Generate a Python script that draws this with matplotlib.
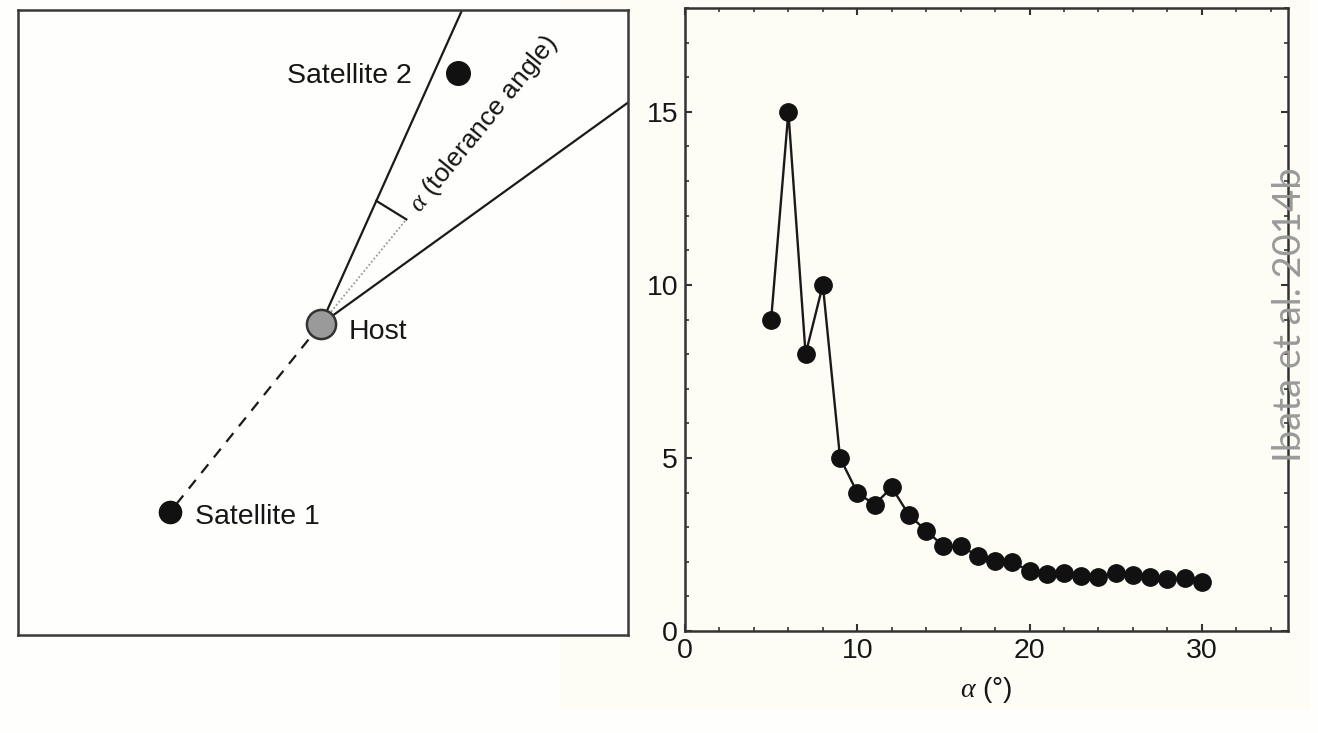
import numpy as np
import matplotlib
matplotlib.use('Agg')
import matplotlib.pyplot as plt
from matplotlib.patches import Rectangle

# number of satellite pairs found vs tolerance angle
alpha = [5, 6, 7, 8, 9, 10, 11, 12, 13, 14, 15, 16, 17, 18, 19, 20,
         21, 22, 23, 24, 25, 26, 27, 28, 29, 30]
counts = [9.0, 15.0, 8.0, 10.0, 5.0, 4.0, 3.65, 4.15, 3.35, 2.9, 2.45, 2.45, 2.17, 2.03, 1.98, 1.74,
          1.64, 1.69, 1.59, 1.57, 1.67, 1.61, 1.55, 1.50, 1.53, 1.43]
xticks = [0, 10, 20, 30]
yticks = [0, 5, 10, 15]

# schematic geometry (pixel-like units, y pointing down)
host = (321, 324)
satellite1 = (170, 512)
satellite2 = (458, 73)
cone_edges = [65.8, 35.8]   # degrees, counter-clockwise from +x
mark_radius = 135

plt.rcParams['font.family'] = ['Liberation Sans', 'DejaVu Sans']
plt.rcParams['mathtext.fontset'] = 'custom'
plt.rcParams['mathtext.it'] = 'Liberation Serif:italic'

TXT = '#161616'
W, H = 1318, 733
fig = plt.figure(figsize=(W / 100, H / 100), dpi=100, facecolor='#fefefd')
fig.patches.append(Rectangle((560 / W, (H - 710) / H), 750 / W, 710 / H,
                             transform=fig.transFigure, facecolor='#fdfdf6',
                             edgecolor='none', zorder=-10))

def figbox(x0, y0, x1, y1):
    return [x0 / W, (H - y1) / H, (x1 - x0) / W, (y1 - y0) / H]

# ---- left: schematic of the host and the cone ----
ax1 = fig.add_axes(figbox(18, 10, 628, 635))
ax1.set_xlim(18, 628)
ax1.set_ylim(635, 10)
ax1.set_facecolor('#fefefd')
ax1.set_xticks([])
ax1.set_yticks([])
for s in ax1.spines.values():
    s.set_linewidth(1.8)
    s.set_color('#3a3a3a')

hx, hy = host
def along(angle, r):
    a = np.radians(angle)
    return hx + r * np.cos(a), hy - r * np.sin(a)

for ang in cone_edges:
    ex, ey = along(ang, 900)
    ax1.plot([hx, ex], [hy, ey], color='#1a1a1a', lw=1.6, zorder=2)

bis = sum(cone_edges) / 2
bx, by = along(bis, mark_radius)
ax1.plot([hx, bx], [hy, by], color='#999999', lw=1.3, ls=(0, (1, 1.2)), zorder=2)
lx, ly = along(cone_edges[0], mark_radius)
ax1.plot([lx, bx], [ly, by], color='#1a1a1a', lw=1.6, zorder=2)
tx, ty = along(bis, 148)
ax1.text(tx, ty, r'$\alpha$ (tolerance angle)', rotation=bis, rotation_mode='anchor',
         ha='left', va='center', fontsize=19, color=TXT)

ax1.plot([hx, satellite1[0]], [hy, satellite1[1]], color='#1a1a1a', lw=1.6,
         ls=(0, (5, 4)), zorder=1)
ax1.plot(*host, 'o', ms=21, mfc='#9a9a9a', mec='#333333', mew=1.8, zorder=3)
ax1.plot(*satellite1, 'o', ms=16, color='#111111', zorder=3)
ax1.plot(*satellite2, 'o', ms=17, color='#111111', zorder=3)

ax1.text(hx + 28, hy + 8, 'Host', fontsize=20.5, va='center', ha='left', color=TXT)
ax1.text(satellite1[0] + 25, satellite1[1] + 5, 'Satellite 1', fontsize=20.5,
         va='center', ha='left', color=TXT)
ax1.text(satellite2[0] - 46, satellite2[1] + 3, 'Satellite 2', fontsize=20.5,
         va='center', ha='right', color=TXT)

# ---- right: counts vs tolerance angle ----
ax2 = fig.add_axes(figbox(685, 8, 1288, 631))
ax2.set_facecolor('#fdfdf6')
ax2.plot(alpha, counts, '-', color='#1a1a1a', lw=1.7,
         marker='o', ms=12.5, mfc='#111111', mec='#111111')
ax2.set_xlim(0, 35)
ax2.set_ylim(0, 18)
ax2.set_xticks(xticks)
ax2.set_yticks(yticks)
ax2.set_xticks(np.arange(0, 36, 2), minor=True)
ax2.set_yticks(np.arange(0, 19, 1), minor=True)
ax2.tick_params(which='both', direction='in', top=True, right=True,
                colors='#333333', labelcolor=TXT)
ax2.tick_params(which='major', length=5, width=1.5, labelsize=20.5, pad=5)
ax2.tick_params(which='minor', length=3, width=1.2)
for s in ax2.spines.values():
    s.set_linewidth(1.8)
    s.set_color('#333333')
ax2.set_xlabel(r'$\alpha$ (°)', fontsize=20, labelpad=8, color=TXT)

fig.text(1290 / W, (H - 315) / H, 'Ibata et al. 2014b', rotation=90,
         ha='center', va='center', fontsize=27.5, color='#9a9a9a',
         family=['Lato', 'DejaVu Sans'], fontweight='normal')

fig.savefig('out.png', dpi=100, facecolor=fig.get_facecolor())
